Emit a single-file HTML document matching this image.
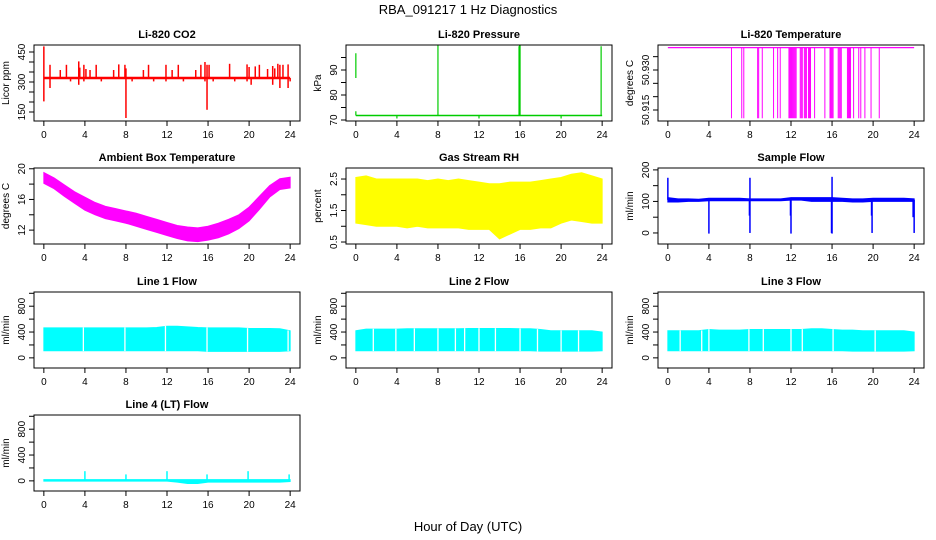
<!DOCTYPE html>
<html><head><meta charset="utf-8"><style>
html,body{margin:0;padding:0;background:#fff;}
svg{display:block;font-family:"Liberation Sans",Arial,sans-serif;}
</style></head><body>
<svg id="chart" width="936" height="540" viewBox="0 0 936 540" xmlns="http://www.w3.org/2000/svg">
<rect x="0" y="0" width="936" height="540" fill="#fff"/>
<text x="468" y="14" font-size="13" text-anchor="middle">RBA_091217  1 Hz Diagnostics</text>
<text x="468" y="531" font-size="13" text-anchor="middle">Hour of Day (UTC)</text>
</svg>
<script>
const hours = [0,1,2,3,4,5,6,7,8,9,10,11,12,13,14,15,16,17,18,19,20,21,22,23,24];
const xTicks = [0,4,8,12,16,20,24];
// CO2
const co2Base = 320;
const co2SpikeH = [0,0,0.6,0.6,1.6,2.2,2.6,3.4,3.4,3.5,3.9,3.9,4.1,4.5,5.1,5.6,6.8,7.3,7.9,8.0,8.0,8.6,9.7,10.2,10.7,11.9,11.9,12.5,13.1,13.6,14.8,15.3,15.7,15.7,15.9,15.9,16.1,16.5,18.1,18.6,19.8,19.8,20.0,20.2,20.6,21.0,21.8,22.3,22.3,22.5,22.8,23.0,23.0,23.3,23.8,23.8,24.0];
const co2SpikeV = [478,203,386,270,360,386,303,403,286,372,386,303,365,360,386,303,360,388,386,368,120,303,360,386,303,386,303,360,386,303,360,386,400,303,386,161,386,303,391,303,388,303,375,286,378,386,365,380,286,368,391,386,270,386,388,270,303];
// Pressure
const presBase = 71.8;
const presSegH = [0,8.0,15.9,15.95,16.0,23.9,4,12,20,0];
const presSegLo = [86.8,71.8,71.8,95,71.8,71.8,70.6,70.6,70.6,71.8];
const presSegHi = [96.7,100,99.5,100,99.8,99.5,71.8,71.8,71.8,73.5];
// Li-820 temperature
const tempBase = 50.9384;
const tempLow = 50.9119;
const tempDropH = [6.2,7.2,7.4,8.75,8.85,9.2,10.3,10.7,10.95,11.8,11.9,12.0,12.1,12.2,12.3,12.4,12.5,12.9,13.0,13.1,13.3,13.4,13.5,13.7,13.8,13.9,14.3,15.3,15.8,15.9,16.0,16.1,16.6,16.7,16.8,16.9,17.5,17.6,17.7,17.8,18.1,18.6,18.8,19.2,19.8,20.6];
// Ambient box temperature
const ambUpper = [19.5,18.8,17.9,17.0,16.3,15.6,15.1,14.8,14.5,14.2,13.8,13.4,13.0,12.6,12.4,12.3,12.5,12.9,13.4,14.0,15.0,16.4,17.8,18.7,18.9];
const ambLower = [18.1,17.4,16.4,15.5,14.6,14.0,13.5,13.2,12.9,12.5,12.1,11.7,11.3,10.9,10.6,10.5,10.7,11.0,11.5,12.2,13.2,14.7,16.3,17.3,17.5];
// Gas stream RH
const rhUpper = [2.55,2.6,2.5,2.5,2.5,2.5,2.5,2.45,2.5,2.45,2.5,2.45,2.4,2.35,2.35,2.4,2.4,2.4,2.45,2.5,2.55,2.65,2.7,2.6,2.5];
const rhLower = [1.1,1.05,1.0,1.0,1.0,0.95,1.0,0.95,0.95,0.95,0.95,0.9,0.9,0.9,0.6,0.75,0.9,0.9,0.95,0.95,1.1,1.2,1.15,1.1,1.1];
// Sample flow
const sfUpper = [112,108,108,107,110,110,110,110,108,108,108,108,112,112,112,112,112,110,108,108,110,110,110,110,108];
const sfLower = [98,98,100,100,102,102,102,102,102,102,102,102,104,104,100,100,100,100,98,98,100,100,100,100,100];
const sfSpikeH = [0,8.0,16.0,4.0,7.95,8.0,11.95,12.0,15.95,16.0,19.85,19.9,23.9,24.0];
const sfSpikeV = [175,175,178,-2,55,0,55,-2,0,-2,55,0,50,0];
// Line flows
const l1Upper = [465,465,465,465,465,465,465,465,465,465,465,470,490,490,480,470,465,465,465,465,455,455,455,450,420];
const l1Lower = [110,110,110,110,110,110,110,110,110,110,110,110,110,110,110,110,100,100,100,100,100,100,100,100,110];
const l1Gaps = [3.85,7.9,11.85,15.9,19.85,23.8];
const l2Upper = [420,445,445,445,445,450,450,450,450,450,450,455,455,455,455,455,450,450,440,420,420,420,420,420,400];
const l2Lower = [110,110,110,110,110,110,110,110,110,110,110,110,110,110,110,110,110,110,105,105,105,105,105,105,110];
const l2Gaps = [1.7,3.9,5.7,8.0,9.7,10.6,12.0,13.6,16.0,17.7,20.0,21.7];
const l3Upper = [420,420,420,420,440,430,430,430,440,440,440,440,440,440,450,450,440,430,430,420,420,420,420,420,400];
const l3Lower = [110,110,110,110,110,110,110,110,110,110,110,110,110,110,110,110,110,110,105,105,105,105,105,105,110];
const l3Gaps = [1.2,3.3,4.0,7.9,9.3,12.0,13.1,16.1,20.2];
const l4Upper = [20,20,20,20,20,20,20,20,20,20,20,20,20,20,20,20,20,20,20,20,20,20,20,20,20];
const l4Lower = [-5,-5,-5,-5,-5,-5,-5,-5,-5,-5,-5,-5,-5,-20,-40,-40,-20,-20,-20,-20,-20,-20,-20,-20,-10];
const l4SpikeH = [4.0,8.0,12.0,15.9,19.9,23.9];
const l4SpikeV = [150,100,150,100,150,100];

const NS = "http://www.w3.org/2000/svg";
const svg = document.getElementById('chart');
const colL = [34,346,658], rowT = [45,168,292,415], BW = 266, BH = 76;

function mk(tag, attrs, parent){
  const e = document.createElementNS(NS, tag);
  for (const k in attrs) e.setAttribute(k, attrs[k]);
  (parent||svg).appendChild(e);
  return e;
}
function makePanel(idx, title, ylab, ylo, yhi, ticks, labels, name){
  const col = idx%3, row = Math.floor(idx/3);
  const L = colL[col], T = rowT[row];
  const g = mk('g', {});
  
  
  const p = {g, L, T,
    x: h => L + (h + 0.96) / 25.92 * BW,
    y: v => T + (yhi - v) / (yhi - ylo) * BH};
  p.finish = function(){
    const box = mk('rect', {x:L, y:T, width:BW, height:BH, fill:'none', stroke:'#000', 'stroke-width':1}, g);
    
    
    const t = mk('text', {x:L+BW/2, y:T-7, 'font-size':11, 'font-weight':'bold', 'text-anchor':'middle'}, g);
    t.textContent = title;
    
    
    // x axis
    const xa = mk('g', {}, g);
    
    
    mk('line', {x1:p.x(0), x2:p.x(24), y1:T+BH, y2:T+BH, stroke:'#000'}, xa);
    xTicks.forEach(h => {
      mk('line', {x1:p.x(h), x2:p.x(h), y1:T+BH, y2:T+BH+5, stroke:'#000'}, xa);
      const tx = mk('text', {x:p.x(h), y:T+BH+17, 'font-size':10, 'text-anchor':'middle'}, xa);
      tx.textContent = h;
    });
    // y axis
    const ya = mk('g', {}, g);
    
    
    mk('line', {x1:L, x2:L, y1:p.y(ticks[0]), y2:p.y(ticks[ticks.length-1]), stroke:'#000'}, ya);
    ticks.forEach(v => mk('line', {x1:L-5, x2:L, y1:p.y(v), y2:p.y(v), stroke:'#000'}, ya));
    labels.forEach(lb => {
      const yy = p.y(lb[0]);
      const tx = mk('text', {x:L-9, y:yy, 'font-size':10, 'text-anchor':'middle', transform:`rotate(-90 ${L-9} ${yy})`}, ya);
      tx.textContent = lb[1];
    });
    const yt = mk('text', {x:L-25, y:T+BH/2, 'font-size':10, 'text-anchor':'middle', transform:`rotate(-90 ${L-25} ${T+BH/2})`}, g);
    yt.textContent = ylab;
    
    
  };
  return p;
}
function band(p, up, lo, color, name){
  let pts = hours.map((h,i)=>p.x(h)+','+p.y(up[i]));
  pts = pts.concat(hours.slice().reverse().map((h,j)=>p.x(h)+','+p.y(lo[hours.length-1-j])));
  const e = mk('polygon', {points:pts.join(' '), fill:color, stroke:color, 'stroke-width':1}, p.g);
  
  
}
function seg(p, h, v1, v2, color, w, name){
  const e = mk('line', {x1:p.x(h), x2:p.x(h), y1:p.y(v1), y2:p.y(v2), stroke:color, 'stroke-width':w||1.2}, p.g);
  
  
}
function hline(p, v, color, w, name){
  const e = mk('line', {x1:p.x(0), x2:p.x(24), y1:p.y(v), y2:p.y(v), stroke:color, 'stroke-width':w}, p.g);
  
  
}

// 1 CO2
let p = makePanel(0,'Li-820 CO2','Licor ppm',105,485,[150,200,250,300,350,400,450],[[150,'150'],[300,'300'],[450,'450']],'co2');
hline(p, co2Base, '#f00', 2.5, 'co2-baseline');
co2SpikeH.forEach((h,i)=>seg(p,h,co2Base,co2SpikeV[i],'#f00',1.5,'co2-spike'));
p.finish();
// 2 Pressure
p = makePanel(1,'Li-820 Pressure','kPa',69.6,100.0,[70,75,80,85,90,95],[[70,'70'],[80,'80'],[90,'90']],'pressure');
hline(p, presBase, '#0c0', 1.5, 'pressure-baseline');
presSegH.forEach((h,i)=>seg(p,h,presSegLo[i],presSegHi[i],'#0c0',1.2,'pressure-spike'));
p.finish();
// 3 Temperature
p = makePanel(2,'Li-820 Temperature','degrees C',50.91088,50.93937,[50.915,50.920,50.925,50.930,50.935],[[50.915,'50.915'],[50.930,'50.930']],'li820-temp');
hline(p, tempBase, '#f0f', 1.2, 'temp-baseline');
tempDropH.forEach(h=>seg(p,h,tempBase,tempLow,'#f0f',1,'temp-drop'));
p.finish();
// 4 Ambient
p = makePanel(3,'Ambient Box Temperature','degrees C',10.19,20.1,[12,14,16,18,20],[[12,'12'],[16,'16'],[20,'20']],'ambient-temp');
band(p, ambUpper, ambLower, '#f0f', 'ambient-temp-band');
p.finish();
// 5 RH
p = makePanel(4,'Gas Stream RH','percent',0.437,2.85,[0.5,1,1.5,2,2.5],[[0.5,'0.5'],[1.5,'1.5'],[2.5,'2.5']],'gas-rh');
band(p, rhUpper, rhLower, '#ff0', 'gas-rh-band');
p.finish();
// 6 Sample flow
p = makePanel(5,'Sample Flow','ml/min',-35,206,[0,50,100,150,200],[[0,'0'],[100,'100'],[200,'200']],'sample-flow');
band(p, sfUpper, sfLower, '#00f', 'sample-flow-band');
sfSpikeH.forEach((h,i)=>seg(p,h,105,sfSpikeV[i],'#00f',1.5,'sample-flow-spike'));
p.finish();
// 7-10 Line flows
const flowTicks = [0,200,400,600,800,1000], flowLabels = [[0,'0'],[400,'400'],[800,'800']];
[[6,'Line 1 Flow',l1Upper,l1Lower,l1Gaps,'line1-flow'],
 [7,'Line 2 Flow',l2Upper,l2Lower,l2Gaps,'line2-flow'],
 [8,'Line 3 Flow',l3Upper,l3Lower,l3Gaps,'line3-flow'],
 [9,'Line 4 (LT) Flow',l4Upper,l4Lower,[],'line4-flow']].forEach(cfg=>{
  const q = makePanel(cfg[0],cfg[1],'ml/min',-157,1020,flowTicks,flowLabels,cfg[5]);
  band(q, cfg[2], cfg[3], '#0ff', cfg[5]+'-band');
  cfg[4].forEach(h=>seg(q,h,cfg[3][Math.round(h)]-5,cfg[2][Math.round(h)]+5,'#fff',1.3,cfg[5]+'-gap'));
  if (cfg[0]===9) l4SpikeH.forEach((h,i)=>seg(q,h,0,l4SpikeV[i],'#0ff',1.5,'line4-spike'));
  q.finish();
});
</script>
</body></html>
